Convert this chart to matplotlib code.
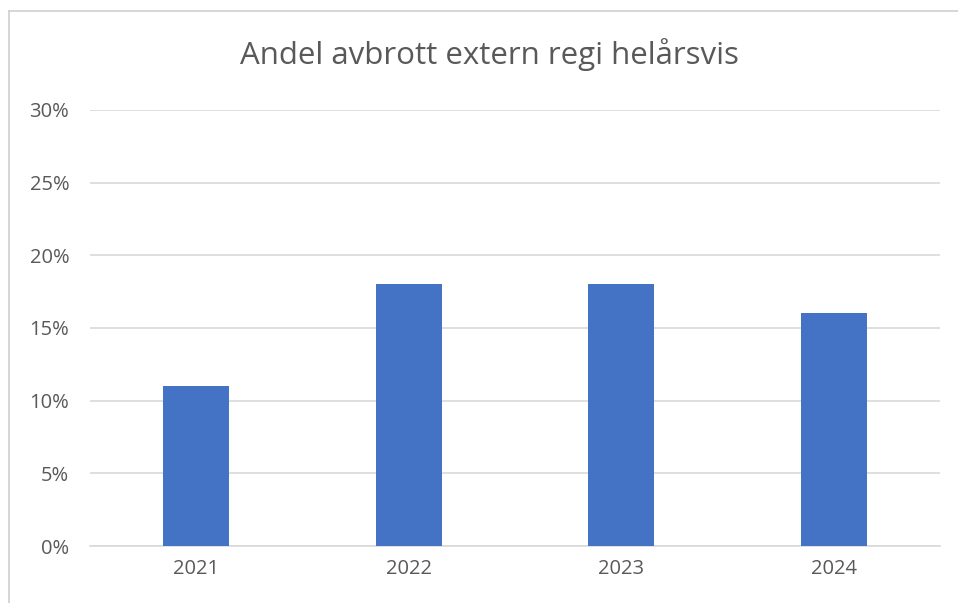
import matplotlib
matplotlib.use("Agg")
import matplotlib.pyplot as plt
from matplotlib.lines import Line2D
from matplotlib.ticker import FuncFormatter, MultipleLocator

years = ["2021", "2022", "2023", "2024"]
shares = [0.11, 0.18, 0.18, 0.16]
title = "Andel avbrott extern regi helårsvis"

plt.rcParams['font.family'] = ['Open Sans', 'DejaVu Sans']

fig = plt.figure(figsize=(9.58, 6.03), dpi=100)
ax = fig.add_axes([90/958, 1-546/603, 850/958, 436/603])

x = range(len(years))
ax.bar(x, shares, width=0.31, color="#4472C4", zorder=3)
ax.set_xlim(-0.5, len(years)-0.5)
ax.set_ylim(0, 0.30)
ax.yaxis.set_major_locator(MultipleLocator(0.05))
ax.yaxis.set_major_formatter(FuncFormatter(lambda v, p: f"{v*100:.0f}%"))
ax.set_xticks(list(x))
ax.set_xticklabels(years)
ax.grid(axis="y", color="#D9D9D9", linewidth=1.2, zorder=0)
for s in ["top", "right", "left"]:
    ax.spines[s].set_visible(False)
ax.spines["bottom"].set_color("#D9D9D9")
ax.spines["bottom"].set_linewidth(1.2)
ax.tick_params(axis="both", length=0, labelsize=14.5, colors="#595959")
ax.tick_params(axis="y", pad=15)
ax.tick_params(axis="x", pad=9)

fig.text(489/958, 1-55/603, title, ha="center", va="center", fontsize=22.5, color="#595959")

# outer chart frame
fig.add_artist(Line2D([9/958, 9/958], [0, 1-11/603], transform=fig.transFigure, color="#D0D0D0", linewidth=1.2))
fig.add_artist(Line2D([9/958, 1], [1-11/603, 1-11/603], transform=fig.transFigure, color="#D0D0D0", linewidth=1.2))

fig.savefig("out.png", dpi=100)
